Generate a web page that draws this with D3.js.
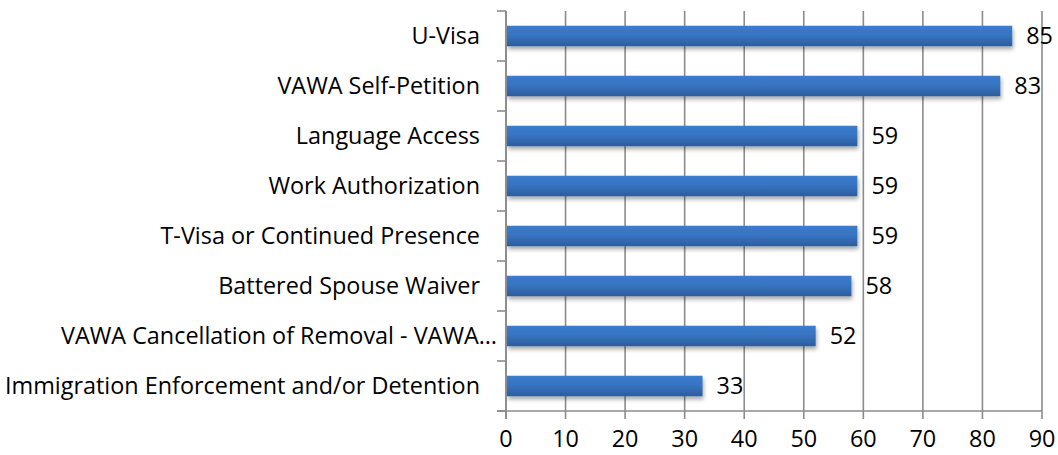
<!DOCTYPE html>
<html>
<head>
<meta charset="utf-8">
<script src="https://cdn.jsdelivr.net/npm/d3@7"></script>
<style>
  html, body { margin: 0; padding: 0; background: #fff; }
  svg { display: block; font-family: "Open Sans", sans-serif; }
</style>
</head>
<body>
<div id="chart"></div>
<script>
(function() {
"use strict";

var categories = [
    "U-Visa",
    "VAWA Self-Petition",
    "Language Access",
    "Work Authorization",
    "T-Visa or Continued Presence",
    "Battered Spouse Waiver",
    "VAWA Cancellation of Removal - VAWA\u2026",
    "Immigration Enforcement and/or Detention"
];
var values = [85, 83, 59, 59, 59, 58, 52, 33];
var xTicks = [0, 10, 20, 30, 40, 50, 60, 70, 80, 90];

var width = 1058, height = 455;
var margin = {top: 11, right: 16, bottom: 44, left: 506};
var fontSize = 23.4;
var gridColor = "#8c8c8c";

var svg = d3.select("#chart")
    .append("svg")
    .attr("width", width)
    .attr("height", height);

var defs = svg.append("defs");
var grad = defs.append("linearGradient")
    .attr("id", "barGrad")
    .attr("x1", 0).attr("y1", 0).attr("x2", 0).attr("y2", 1);
grad.append("stop").attr("offset", "0%").attr("stop-color", "#3a7ccd");
grad.append("stop").attr("offset", "45%").attr("stop-color", "#3774c2");
grad.append("stop").attr("offset", "100%").attr("stop-color", "#2c5d9c");

var shadow = defs.append("filter")
    .attr("id", "barShadow")
    .attr("x", "-5%").attr("y", "-30%")
    .attr("width", "115%").attr("height", "190%");
shadow.append("feGaussianBlur").attr("in", "SourceAlpha").attr("stdDeviation", 2.2);
shadow.append("feOffset").attr("dx", 1).attr("dy", 3).attr("result", "blur");
shadow.append("feComponentTransfer").append("feFuncA").attr("type", "linear").attr("slope", 0.35);
var merge = shadow.append("feMerge");
merge.append("feMergeNode");
merge.append("feMergeNode").attr("in", "SourceGraphic");

var x = d3.scaleLinear()
    .domain([0, 90])
    .range([margin.left, width - margin.right]);

var y = d3.scaleBand()
    .domain(categories)
    .range([margin.top, height - margin.bottom])
    .paddingInner(0.59)
    .paddingOuter(0.295);

var plotTop = margin.top, plotBottom = height - margin.bottom;

// vertical gridlines
svg.append("g")
    .selectAll("line")
    .data(xTicks)
    .enter().append("line")
      .attr("x1", function(d) { return x(d); })
      .attr("x2", function(d) { return x(d); })
      .attr("y1", plotTop)
      .attr("y2", plotBottom + 8)
      .attr("stroke", gridColor)
      .attr("stroke-width", 1.6);

// x axis line (extends left to meet the category ticks)
svg.append("line")
    .attr("x1", margin.left - 9).attr("x2", x(90))
    .attr("y1", plotBottom).attr("y2", plotBottom)
    .attr("stroke", gridColor).attr("stroke-width", 1.6);

// category tick marks at band boundaries
var bounds = d3.range(categories.length + 1).map(function(i) {
    return plotTop + i * (plotBottom - plotTop) / categories.length;
});
svg.append("g")
    .selectAll("line")
    .data(bounds)
    .enter().append("line")
      .attr("x1", margin.left - 9).attr("x2", margin.left)
      .attr("y1", function(d) { return d; })
      .attr("y2", function(d) { return d; })
      .attr("stroke", gridColor).attr("stroke-width", 1.6);

// x tick labels (baseline kept just inside the bottom edge)
svg.append("g")
    .selectAll("text")
    .data(xTicks)
    .enter().append("text")
      .attr("x", function(d) { return x(d); })
      .attr("y", plotBottom + 36)
      .attr("text-anchor", "middle")
      .attr("font-size", fontSize)
      .attr("fill", "#000")
      .text(function(d) { return d; });

// bars
svg.append("g")
    .selectAll("rect")
    .data(values)
    .enter().append("rect")
      .attr("x", x(0) + 1)
      .attr("y", function(d, i) { return y(categories[i]); })
      .attr("width", function(d) { return x(d) - x(0) - 1; })
      .attr("height", y.bandwidth())
      .attr("fill", "url(#barGrad)")
      .attr("filter", "url(#barShadow)");

// value labels
svg.append("g")
    .selectAll("text")
    .data(values)
    .enter().append("text")
      .attr("x", function(d) { return x(d) + 14; })
      .attr("y", function(d, i) { return y(categories[i]) + y.bandwidth() / 2; })
      .attr("dy", "0.36em")
      .attr("font-size", fontSize)
      .attr("fill", "#000")
      .text(function(d) { return d; });

// category labels
svg.append("g")
    .selectAll("text")
    .data(categories)
    .enter().append("text")
      .attr("x", function(d) { return d.slice(-1) === "\u2026" ? margin.left - 9 : margin.left - 26; })
      .attr("y", function(d) { return y(d) + y.bandwidth() / 2; })
      .attr("dy", "0.36em")
      .attr("text-anchor", "end")
      .attr("font-size", fontSize)
      .attr("fill", "#000")
      .text(function(d) { return d; });

// value axis line on top
svg.append("line")
    .attr("x1", margin.left).attr("x2", margin.left)
    .attr("y1", plotTop).attr("y2", plotBottom + 8)
    .attr("stroke", gridColor).attr("stroke-width", 1.8);

})();
</script>
</body>
</html>
